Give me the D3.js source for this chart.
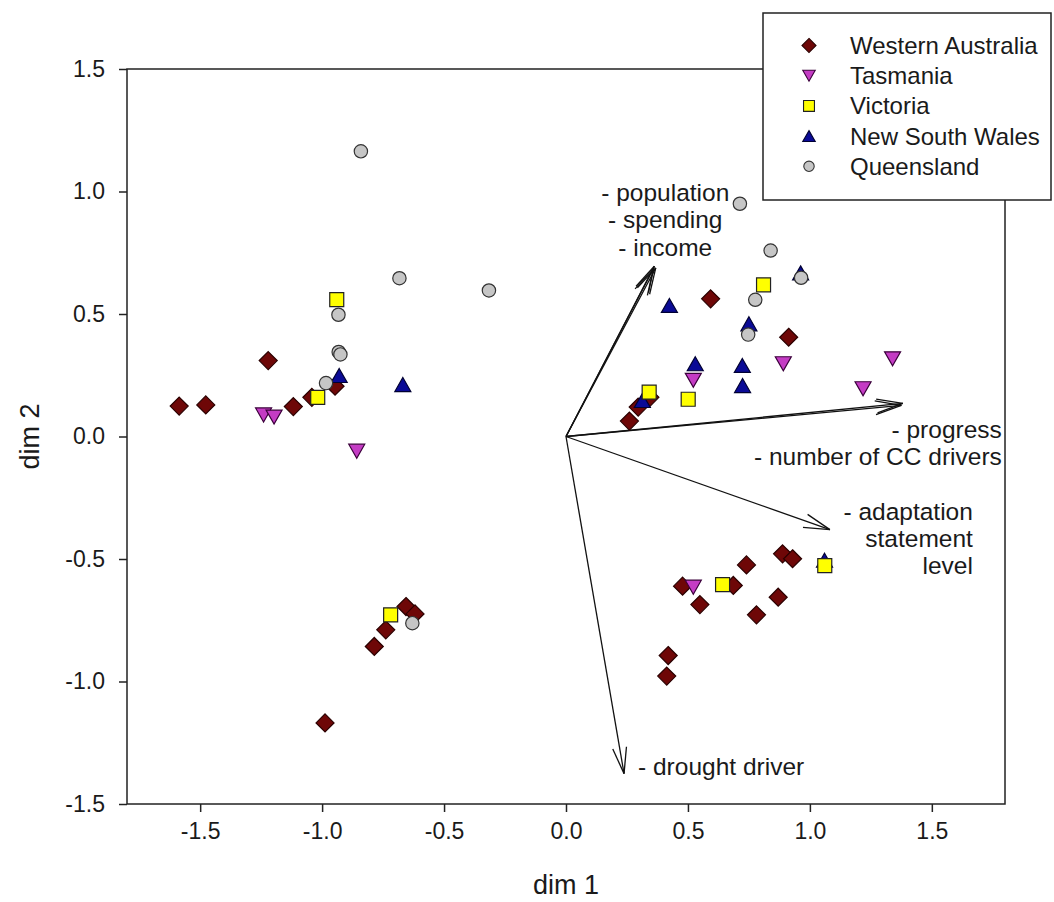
<!DOCTYPE html>
<html>
<head>
<meta charset="utf-8">
<script src="https://cdn.jsdelivr.net/npm/d3@7"></script>
<style>
  body { margin: 0; background: #fff; }
  svg text { font-family: "Liberation Sans", Arial, sans-serif; fill: #1a1a1a; }
</style>
</head>
<body>
<div id="chart"></div>
<script>
// Puntos por estado (dim 1, dim 2)
const westernAustralia = [
  [-1.586, 0.124], [-1.477, 0.129], [-1.221, 0.310], [-1.118, 0.122], [-1.042, 0.160], [-0.947, 0.205],
  [-0.656, -0.694], [-0.619, -0.724], [-0.739, -0.789], [-0.786, -0.857], [-0.988, -1.169],
  [0.593, 0.562], [0.913, 0.405], [0.344, 0.160], [0.296, 0.120], [0.260, 0.063],
  [0.478, -0.611], [0.686, -0.608], [0.740, -0.524], [0.888, -0.479], [0.929, -0.499],
  [0.549, -0.686], [0.870, -0.656], [0.781, -0.728], [0.419, -0.894], [0.413, -0.978]
];
const tasmania = [
  [-1.240, 0.088], [-1.197, 0.079], [-0.858, -0.060], [0.891, 0.297], [1.339, 0.317],
  [0.522, 0.229], [1.218, 0.195], [0.522, -0.615]
];
const victoria = [
  [-0.940, 0.559], [-1.018, 0.160], [-0.719, -0.728], [0.810, 0.619], [0.501, 0.152],
  [0.341, 0.181], [0.642, -0.605], [1.061, -0.527]
];
const newSouthWales = [
  [-0.930, 0.249], [-0.669, 0.212], [0.424, 0.535], [0.750, 0.460], [0.530, 0.297],
  [0.723, 0.290], [0.724, 0.208], [0.313, 0.147], [0.962, 0.668], [1.060, -0.505]
];
const queensland = [
  [-0.841, 1.164], [-0.683, 0.646], [-0.316, 0.596], [-0.933, 0.497], [-0.932, 0.345], [-0.925, 0.335],
  [-0.984, 0.218], [-0.630, -0.762], [0.713, 0.950], [0.839, 0.759], [0.964, 0.648],
  [0.776, 0.558], [0.747, 0.416]
];

const estados = ["Western Australia", "Tasmania", "Victoria", "New South Wales", "Queensland"];
// orden de dibujo (el último queda encima)
const ordenDibujo = ["Western Australia", "Tasmania", "New South Wales", "Victoria", "Queensland"];
const puntosPorEstado = {
  "Western Australia": westernAustralia,
  "Tasmania": tasmania,
  "Victoria": victoria,
  "New South Wales": newSouthWales,
  "Queensland": queensland
};

// Vectores del biplot
const vectores = [
  { nombre: "population", x: 0.362, y: 0.695 },
  { nombre: "spending", x: 0.368, y: 0.688 },
  { nombre: "income", x: 0.358, y: 0.684 },
  { nombre: "progress", x: 1.381, y: 0.135 },
  { nombre: "number of CC drivers", x: 1.375, y: 0.127 },
  { nombre: "adaptation statement level", x: 1.082, y: -0.380 },
  { nombre: "drought driver", x: 0.238, y: -1.376 }
];
const etiquetasVectores = [
  { lineas: ["- population", "- spending", "- income"], vector: "population" },
  { lineas: ["- progress", "- number of CC drivers"], vector: "progress" },
  { lineas: ["- adaptation", "statement", "level"], vector: "adaptation statement level" },
  { lineas: ["- drought driver"], vector: "drought driver" }
];

const ticks = [-1.5, -1.0, -0.5, 0.0, 0.5, 1.0, 1.5];

const ancho = 1054, alto = 902;
const margen = { top: 69, right: 49, bottom: 98, left: 127 };

const svg = d3.select("#chart").append("svg")
  .attr("width", ancho).attr("height", alto);

const x = d3.scaleLinear().domain([-1.8, 1.8]).range([margen.left, ancho - margen.right]);
const y = d3.scaleLinear().domain([-1.5, 1.5]).range([alto - margen.bottom, margen.top]);

// formato con guion normal
const fmt = d => d.toFixed(1);

// Ejes
const ejeX = svg.append("g")
  .attr("transform", `translate(0,${y(-1.5)})`)
  .call(d3.axisBottom(x).tickValues(ticks).tickFormat(fmt).tickSize(8).tickPadding(11));
ejeX.select(".domain").remove();
ejeX.selectAll("line").attr("stroke", "#222").attr("stroke-width", 1.5);
ejeX.selectAll("text").style("font-size", "23px").attr("fill", "#1a1a1a");

const ejeY = svg.append("g")
  .attr("transform", `translate(${x(-1.8)},0)`)
  .call(d3.axisLeft(y).tickValues(ticks).tickFormat(fmt).tickSize(8).tickPadding(14));
ejeY.select(".domain").remove();
ejeY.selectAll("line").attr("stroke", "#222").attr("stroke-width", 1.5);
ejeY.selectAll("text").style("font-size", "23px").attr("fill", "#1a1a1a");

// Marco
svg.append("rect")
  .attr("x", x(-1.8)).attr("y", y(1.5))
  .attr("width", x(1.8) - x(-1.8)).attr("height", y(-1.5) - y(1.5))
  .attr("fill", "none").attr("stroke", "#222").attr("stroke-width", 1.5);

// Títulos de ejes
svg.append("text")
  .attr("x", x(0)).attr("y", 885)
  .attr("text-anchor", "middle").attr("dominant-baseline", "central")
  .style("font-size", "27px").text("dim 1");
svg.append("text")
  .attr("transform", `translate(30,${y(0)}) rotate(-90)`)
  .attr("text-anchor", "middle").attr("dominant-baseline", "central")
  .style("font-size", "27px").text("dim 2");

// Flechas
function flecha(g, x0, y0, x1, y1) {
  g.append("line").attr("x1", x0).attr("y1", y0).attr("x2", x1).attr("y2", y1)
    .attr("stroke", "#111").attr("stroke-width", 1.3);
  const ang = Math.atan2(y1 - y0, x1 - x0);
  const largo = 27, abre = 0.26;
  [ang + Math.PI - abre, ang + Math.PI + abre].forEach(a => {
    g.append("line").attr("x1", x1).attr("y1", y1)
      .attr("x2", x1 + largo * Math.cos(a)).attr("y2", y1 + largo * Math.sin(a))
      .attr("stroke", "#111").attr("stroke-width", 1.3);
  });
}
const capaFlechas = svg.append("g");
vectores.forEach(v => flecha(capaFlechas, x(0), y(0), x(v.x), y(v.y)));

// Etiquetas de las flechas
const desplaz = {
  "population": { dx: 11, dy: -74, anchor: "middle", paso: 27.5 },
  "progress": { dx: 99, dy: 26, anchor: "end", paso: 27 },
  "adaptation statement level": { dx: 143, dy: -18, anchor: "end", paso: 27 },
  "drought driver": { dx: 14, dy: -7, anchor: "start", paso: 27 }
};
etiquetasVectores.forEach(e => {
  const v = vectores.find(d => d.nombre === e.vector);
  const o = desplaz[e.vector];
  const t = svg.append("text")
    .attr("text-anchor", o.anchor)
    .style("font-size", "24.5px");
  e.lineas.forEach((l, i) => {
    t.append("tspan")
      .attr("x", x(v.x) + o.dx)
      .attr("y", y(v.y) + o.dy + i * o.paso)
      .attr("dominant-baseline", "central")
      .text(l);
  });
});

// Símbolos
const estilos = {
  "Western Australia": { fill: "#6e0707", stroke: "#2a0000" },
  "Tasmania": { fill: "#c43cc4", stroke: "#3b003b" },
  "Victoria": { fill: "#ffff00", stroke: "#222" },
  "New South Wales": { fill: "#0a0a96", stroke: "#000033" },
  "Queensland": { fill: "#c6c6c6", stroke: "#333" }
};
function forma(estado, k) {
  if (estado === "Western Australia") { const r = 9 * k; return `M0,${-r}L${r},0L0,${r}L${-r},0Z`; }
  if (estado === "Tasmania") { const w = 8 * k, h = 7 * k; return `M${-w},${-h}L${w},${-h}L0,${h}Z`; }
  if (estado === "Victoria") { const s = 7 * k; return `M${-s},${-s}H${s}V${s}H${-s}Z`; }
  if (estado === "New South Wales") { const w = 8 * k, h = 7 * k; return `M0,${-h}L${w},${h}L${-w},${h}Z`; }
  return d3.symbol().type(d3.symbolCircle).size(140 * k * k)();
}

const capaPuntos = svg.append("g");
ordenDibujo.forEach(estado => {
  capaPuntos.selectAll(null)
    .data(puntosPorEstado[estado])
    .enter()
    .append("path")
    .attr("transform", d => `translate(${x(d[0])},${y(d[1])})`)
    .attr("d", forma(estado, 1))
    .attr("fill", estilos[estado].fill)
    .attr("stroke", estilos[estado].stroke)
    .attr("stroke-width", 1.2);
});

// Leyenda
const leyenda = svg.append("g");
leyenda.append("rect")
  .attr("x", 763).attr("y", 13).attr("width", 288).attr("height", 187)
  .attr("fill", "#fff").attr("stroke", "#222").attr("stroke-width", 1.5);
const filas = leyenda.selectAll(".fila")
  .data(estados)
  .enter()
  .append("g")
  .attr("transform", (d, i) => `translate(809,${45.5 + i * 30.2})`);
filas.append("path")
  .attr("d", d => forma(d, 0.78))
  .attr("fill", d => estilos[d].fill)
  .attr("stroke", d => estilos[d].stroke)
  .attr("stroke-width", 1.1);
filas.append("text")
  .attr("x", 41)
  .attr("dominant-baseline", "central")
  .style("font-size", "24px")
  .text(d => d);
</script>
</body>
</html>
